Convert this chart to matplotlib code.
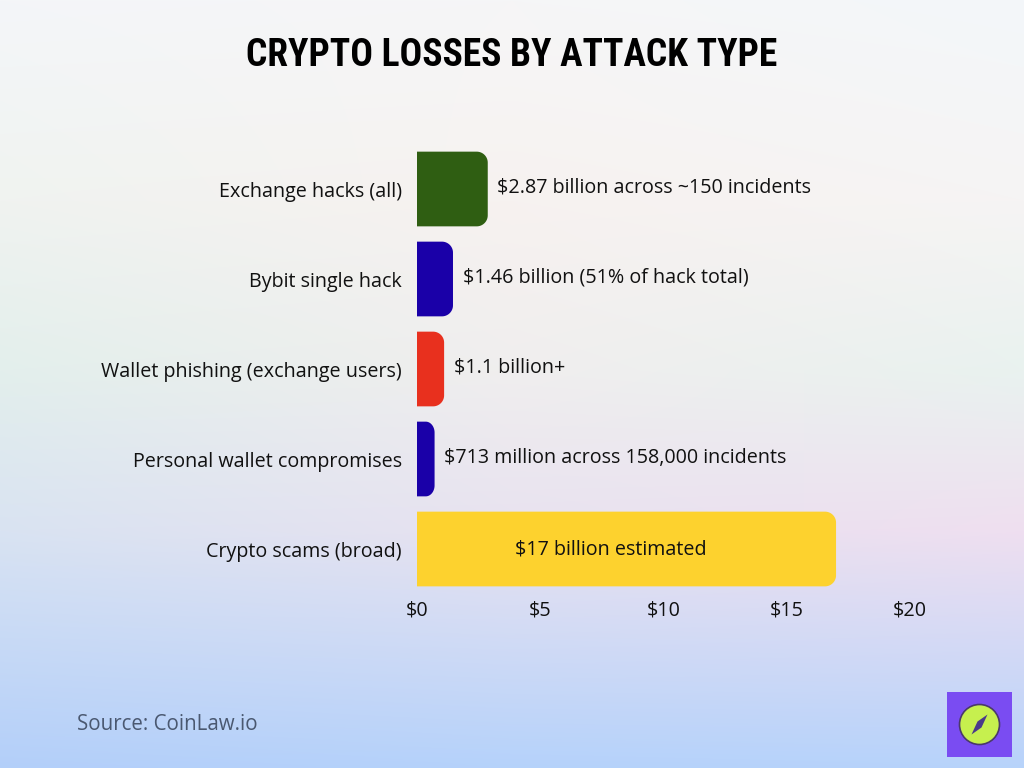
import matplotlib
matplotlib.use("Agg")
import matplotlib.pyplot as plt
import numpy as np
from matplotlib.patches import Rectangle, Ellipse, Polygon
from matplotlib.colors import to_rgb

categories = ["Exchange hacks (all)", "Bybit single hack", "Wallet phishing (exchange users)",
              "Personal wallet compromises", "Crypto scams (broad)"]
values = [2.87, 1.46, 1.1, 0.713, 17]
labels = ["$2.87 billion across ~150 incidents", "$1.46 billion (51% of hack total)",
          "$1.1 billion+", "$713 million across 158,000 incidents", "$17 billion estimated"]
colors = ["#2f5e12", "#1a00a8", "#e8301e", "#1a00a8", "#fdd22e"]
xticks = [0, 5, 10, 15, 20]
xticklabels = ["$0", "$5", "$10", "$15", "$20"]

W, H = 1024, 768
fig = plt.figure(figsize=(10.24, 7.68), dpi=100)

# background gradient
bg = fig.add_axes([0, 0, 1, 1], zorder=-10)
rows_y = [0, 200, 370, 530, 768]
rows = [["#f4f6f9", "#f6f6f7", "#f3f7fa"],
        ["#f0f3f0", "#f7f2f0", "#f6f4f4"],
        ["#e3efec", "#f0eeee", "#e9f2ef"],
        ["#d9e3f2", "#e8e2f0", "#efdff0"],
        ["#b3cffa", "#b5d2fb", "#b7d3fb"]]
ys = np.arange(H)
xs = np.linspace(0, 1, W)
img = np.zeros((H, W, 3))
for c in range(3):
    cols = []
    for r in rows:
        rgb = [to_rgb(v)[c] for v in r]
        cols.append(np.interp(xs, [0, 0.5, 1], rgb))
    cols = np.array(cols)
    for j in range(W):
        img[:, j, c] = np.interp(ys, rows_y, cols[:, j])
bg.imshow(img, aspect="auto", extent=[0, 1, 0, 1], origin="upper")
bg.axis("off")

# main axes: x 417->910 px, y ~144->594 px
left, right = 417 / W, 910 / W
bottom, top = 1 - 594 / H, 1 - 144 / H
ax = fig.add_axes([left, bottom, right - left, top - bottom])
ax.set_facecolor("none")
ax.set_xlim(0, 20)
ax.set_ylim(len(values) - 0.5, -0.5)

fam = ["Open Sans", "DejaVu Sans"]
fs = 14.2
bar_h = 0.83
xu = 20 / 493.0          # data x per pixel
yu = 5 / 450.0           # data y per pixel
r_px = 11
y = np.arange(len(values))
for i, (v, col) in enumerate(zip(values, colors)):
    rx = min(r_px * xu, v / 2)
    ry = min(r_px * yu, bar_h / 2)
    y0, y1 = i - bar_h / 2, i + bar_h / 2
    t = np.linspace(0, np.pi / 2, 20)
    verts = [(0, y0), (v - rx, y0)]
    verts += [(v - rx + rx * np.sin(a), y0 + ry - ry * np.cos(a)) for a in t]
    verts += [(v - rx + rx * np.cos(a), y1 - ry + ry * np.sin(a)) for a in t]
    verts += [(0, y1), (0, y0)]
    ax.add_patch(Polygon(verts, closed=True, facecolor=col, edgecolor="none"))

for i, (v, lab) in enumerate(zip(values, labels)):
    if v > 10:
        ax.annotate(lab, (v / 2, i), xytext=(-11, 0), textcoords="offset points",
                    ha="center", va="center", fontsize=fs, color="#111111", family=fam)
    else:
        ax.annotate(lab, (v, i), xytext=(7, 1), textcoords="offset points",
                    ha="left", va="center", fontsize=fs, color="#111111", family=fam)

ax.set_yticks(y)
ax.set_yticklabels(categories, fontsize=fs, color="#111111", family=fam)
ax.set_xticks(xticks)
ax.set_xticklabels(xticklabels, fontsize=fs, color="#111111", family=fam)
ax.tick_params(length=0)
ax.tick_params(axis="x", pad=5)
ax.tick_params(axis="y", pad=11)
for s in ax.spines.values():
    s.set_visible(False)

# title
fig.text(0.5, 1 - 55 / H, "CRYPTO LOSSES BY ATTACK TYPE", ha="center", va="center",
         fontsize=27, fontweight="bold", color="#000000",
         family=["Roboto Condensed", "Roboto", "DejaVu Sans"])

# source
fig.text(77 / W, 1 - 724 / H, "Source: CoinLaw.io", ha="left", va="center",
         fontsize=14.8, color="#4a5870", family=["Open Sans", "DejaVu Sans"])

# logo
lx0, ly0, ls = 947, 692, 65
fig.patches.append(Rectangle((lx0 / W, 1 - (ly0 + ls) / H), ls / W, ls / H,
                             transform=fig.transFigure, facecolor="#7a4cf2", edgecolor="none"))
cx, cy, cr = lx0 + ls / 2, ly0 + ls / 2, 20
fig.patches.append(Ellipse((cx / W, 1 - cy / H), 2 * cr / W, 2 * cr / H,
                           transform=fig.transFigure, facecolor="#c6f04e",
                           edgecolor="#4a3a6a", linewidth=1.2))
d = [(cx + 8, cy - 10), (cx + 2, cy + 3), (cx - 8, cy + 10), (cx - 2, cy - 3)]
fig.patches.append(Polygon([(px / W, 1 - py / H) for px, py in d], closed=True,
                           transform=fig.transFigure, facecolor="#4a3a8a", edgecolor="none"))

fig.savefig("out.png", dpi=100)
